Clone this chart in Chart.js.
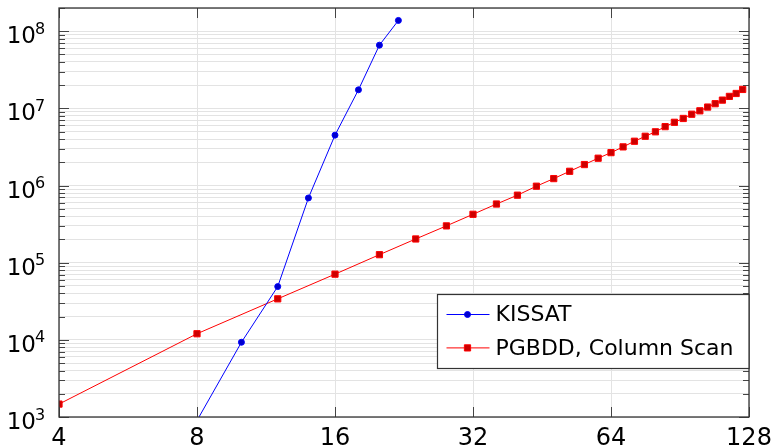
<!DOCTYPE html>
<html>
<head>
<meta charset="utf-8">
<script src="https://cdn.jsdelivr.net/npm/chart.js@4.4.1/dist/chart.umd.min.js"></script>
<style>
  html, body { margin: 0; padding: 0; background: #fff; }
  #wrap { width: 772px; height: 447px; }
</style>
</head>
<body>
<div id="wrap"><canvas id="myChart" width="772" height="447"></canvas></div>
<script>
// data
const kissatN = [8, 10, 12, 14, 16, 18, 20, 22];
const kissatVal = [900, 9300, 49000, 690000, 4500000, 17400000, 66000000, 138000000];

const pgbddN = [4, 8, 12, 16, 20, 24, 28, 32, 36, 40, 44, 48, 52, 56, 60, 64,
  68, 72, 76, 80, 84, 88, 92, 96, 100, 104, 108, 112, 116, 120, 124];
const pgbddVal = [1470, 12000, 34000, 71000, 127000, 203000, 300000, 424000,
  576000, 750000, 980000, 1230000, 1530000, 1870000, 2260000, 2670000,
  3170000, 3750000, 4350000, 4970000, 5800000, 6600000, 7400000, 8400000,
  9300000, 10400000, 11500000, 12800000, 14300000, 15600000, 17600000];

const xTicks = [4, 8, 16, 32, 64, 128];
const yDecades = [3, 4, 5, 6, 7, 8];
const seriesNames = ["KISSAT", "PGBDD, Column Scan"];

function isDecade(v) {
  const e = Math.log10(v);
  return Math.abs(e - Math.round(e)) < 1e-9;
}

// ticks inside the frame, y labels as 10 with raised exponent, frame, legend
const framePlugin = {
  id: "frame",
  afterDraw(chart) {
    const ctx = chart.ctx;
    const a = chart.chartArea;
    const xs = chart.scales.x, ys = chart.scales.y;
    ctx.save();
    ctx.strokeStyle = "#444";
    ctx.lineWidth = 1;
    ctx.beginPath();
    ys.ticks.forEach(t => {
      const y = Math.round(ys.getPixelForValue(t.value)) + 0.5;
      const len = isDecade(t.value) ? 10 : 6;
      ctx.moveTo(a.left, y); ctx.lineTo(a.left + len, y);
      ctx.moveTo(a.right, y); ctx.lineTo(a.right - len, y);
    });
    xs.ticks.forEach(t => {
      const x = Math.round(xs.getPixelForValue(t.value)) + 0.5;
      ctx.moveTo(x, a.bottom); ctx.lineTo(x, a.bottom - 10);
      ctx.moveTo(x, a.top); ctx.lineTo(x, a.top + 10);
    });
    ctx.stroke();

    // y tick labels
    ctx.fillStyle = "#000";
    ctx.textBaseline = "alphabetic";
    ys.ticks.forEach(t => {
      if (!isDecade(t.value)) return;
      const y = ys.getPixelForValue(t.value);
      ctx.font = "23px 'DejaVu Sans'";
      ctx.textAlign = "right";
      ctx.fillText("10", 36, y + 12);
      ctx.font = "16px 'DejaVu Sans'";
      ctx.textAlign = "left";
      ctx.fillText(String(Math.round(Math.log10(t.value))), 35, y + 2.5);
    });

    ctx.strokeStyle = "#333";
    ctx.lineWidth = 1.3;
    ctx.strokeRect(a.left, a.top, a.right - a.left, a.bottom - a.top);

    // legend
    const bx = 437.5, by = 294.5, bw = a.right - bx, bh = 74;
    ctx.fillStyle = "#fff";
    ctx.fillRect(bx, by, bw, bh);
    ctx.strokeStyle = "#333";
    ctx.lineWidth = 1.2;
    ctx.strokeRect(bx, by, bw, bh);
    ctx.font = "22px 'DejaVu Sans'";
    ctx.textAlign = "left";
    ctx.textBaseline = "middle";
    chart.data.datasets.forEach((ds, i) => {
      const y = by + 20 + i * 33.4;
      ctx.strokeStyle = ds.borderColor;
      ctx.lineWidth = ds.borderWidth;
      ctx.beginPath();
      ctx.moveTo(bx + 9, y); ctx.lineTo(bx + 52, y);
      ctx.stroke();
      ctx.fillStyle = ds.pointBackgroundColor;
      ctx.strokeStyle = ds.pointBorderColor;
      ctx.lineWidth = 1;
      Chart.helpers.drawPoint(ctx, {
        pointStyle: ds.pointStyle, radius: ds.pointRadius, rotation: 0, borderWidth: 1
      }, bx + 30, y);
      ctx.fillStyle = "#000";
      ctx.fillText(ds.label, bx + 58, y + 1);
    });
    ctx.restore();
  }
};

const ctx = document.getElementById("myChart").getContext("2d");
const chart = new Chart(ctx, {
  type: "line",
  data: {
    datasets: [
      {
        label: seriesNames[0],
        data: kissatN.map((n, i) => ({ x: n, y: kissatVal[i] })),
        borderColor: "#0000ff",
        borderWidth: 1,
        pointStyle: "circle",
        pointRadius: 3,
        pointBackgroundColor: "#0000cc",
        pointBorderColor: "#0000ff",
        pointBorderWidth: 1,
        tension: 0
      },
      {
        label: seriesNames[1],
        data: pgbddN.map((n, i) => ({ x: n, y: pgbddVal[i] })),
        borderColor: "#ff0000",
        borderWidth: 1,
        pointStyle: "rect",
        pointRadius: 4.4,
        pointBackgroundColor: "#cc0000",
        pointBorderColor: "#ff0000",
        pointBorderWidth: 1,
        tension: 0
      }
    ]
  },
  options: {
    responsive: false,
    animation: false,
    events: [],
    layout: { padding: { top: 8, right: 23, left: 0, bottom: 0 } },
    plugins: { legend: { display: false }, tooltip: { enabled: false } },
    scales: {
      x: {
        type: "logarithmic",
        min: 4,
        max: 128,
        afterBuildTicks: s => { s.ticks = xTicks.map(v => ({ value: v })); },
        afterFit: s => { s.height = 30; s.paddingLeft = 0; s.paddingRight = 0; },
        grid: { color: "#e3e3e3", lineWidth: 1, drawTicks: false },
        border: { display: false },
        ticks: {
          autoSkip: false,
          maxRotation: 0,
          padding: 7,
          color: "#000",
          font: { family: "DejaVu Sans", size: 24 },
          callback: v => String(v)
        }
      },
      y: {
        type: "logarithmic",
        min: 1000,
        max: 2e8,
        afterBuildTicks: s => {
          const t = [];
          yDecades.forEach(e => {
            for (let m = 1; m <= 9; m++) {
              const v = m * Math.pow(10, e);
              if (v <= 2e8) t.push({ value: v });
            }
          });
          s.ticks = t;
        },
        afterFit: s => { s.width = 59; s.paddingTop = 0; s.paddingBottom = 0; },
        grid: { color: "#e3e3e3", lineWidth: 1, drawTicks: false },
        border: { display: false },
        ticks: { display: false, autoSkip: false }
      }
    }
  },
  plugins: [framePlugin]
});
</script>
</body>
</html>
